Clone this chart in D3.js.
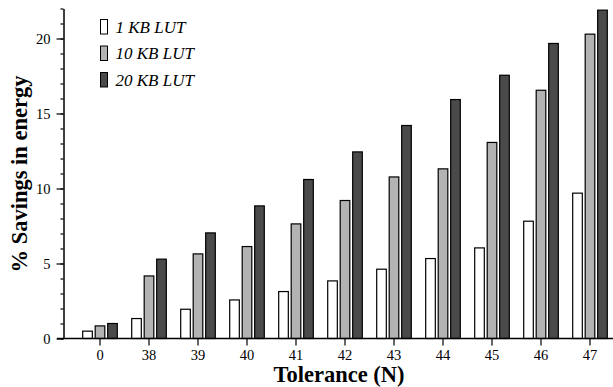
<!DOCTYPE html>
<html>
<head>
<meta charset="utf-8">
<script src="https://cdn.jsdelivr.net/npm/d3@7"></script>
<style>
  html, body { margin: 0; padding: 0; background: #fff; }
</style>
</head>
<body>
<div id="chart"></div>
<script>
const categories = ['0', '38', '39', '40', '41', '42', '43', '44', '45', '46', '47']
const seriesNames = ['1 KB LUT', '10 KB LUT', '20 KB LUT']
const lut1 = [0.49, 1.33, 1.95, 2.57, 3.13, 3.84, 4.62, 5.33, 6.04, 7.82, 9.69]
const lut10 = [0.84, 4.17, 5.64, 6.13, 7.64, 9.2, 10.77, 11.31, 13.07, 16.55, 20.29]
const lut20 = [1.0, 5.29, 7.04, 8.84, 10.6, 12.44, 14.2, 15.93, 17.55, 19.67, 21.89]
const majorTicks = [0, 5, 10, 15, 20]

const width = 613
const height = 387
const font = 'Liberation Serif'
const colors = { '1 KB LUT': '#ffffff', '10 KB LUT': '#b3b3b3', '20 KB LUT': '#4a4a4a' }

const rows = categories.map((c, i) => ({
  cat: c,
  values: [
    { key: seriesNames[0], value: lut1[i] },
    { key: seriesNames[1], value: lut10[i] },
    { key: seriesNames[2], value: lut20[i] },
  ],
}))

const svg = d3
  .select('#chart')
  .append('svg')
  .attr('width', width)
  .attr('height', height)
  .attr('font-family', font)

const axisX = 63.5
const x0 = d3.scaleBand().domain(categories).range([75.5, 614.5]).padding(0)
const x1 = d3
  .scaleBand()
  .domain(seriesNames)
  .range([x0.bandwidth() / 2 - 17.3, x0.bandwidth() / 2 + 17.3])
  .paddingInner(0.23)
const y = d3.scaleLinear().domain([0, 22]).range([338.5, 8.5])

// bars
const groups = svg
  .append('g')
  .selectAll('g')
  .data(rows)
  .join('g')
  .attr('transform', (d) => `translate(${x0(d.cat)},0)`)

groups
  .selectAll('rect')
  .data((d) => d.values)
  .join('rect')
  .attr('x', (d) => x1(d.key))
  .attr('y', (d) => y(d.value))
  .attr('width', x1.bandwidth())
  .attr('height', (d) => y(0) - y(d.value))
  .attr('fill', (d) => colors[d.key])
  .attr('stroke', '#000')
  .attr('stroke-width', 1.2)

// y axis: minor then major ticks
const yMinor = svg
  .append('g')
  .attr('transform', `translate(${axisX},0)`)
  .call(d3.axisLeft(y).tickValues(d3.range(0, 23)).tickSize(3).tickFormat(''))
yMinor.select('.domain').remove()

const yAxis = svg
  .append('g')
  .attr('transform', `translate(${axisX},0)`)
  .call(d3.axisLeft(y).tickValues(majorTicks).tickSize(7).tickSizeOuter(0).tickPadding(6))
yAxis.attr('font-family', font).attr('font-size', 14.5)
yAxis.selectAll('text').attr('fill', '#000')
svg.selectAll('.tick line').attr('stroke', '#000').attr('stroke-width', 1.2)
yAxis.select('.domain').attr('stroke', '#000').attr('stroke-width', 1.5)

// x axis
const xAxis = svg
  .append('g')
  .attr('transform', `translate(0,${y(0)})`)
  .call(d3.axisBottom(x0).tickSize(7).tickSizeOuter(0).tickPadding(4))
xAxis.attr('font-family', font).attr('font-size', 14.5)
xAxis.select('.domain').attr('d', `M57,0H613`).attr('stroke', '#000').attr('stroke-width', 1.5)
xAxis.selectAll('.tick line').attr('stroke', '#000').attr('stroke-width', 1.2)
xAxis.selectAll('text').attr('fill', '#000')

// axis titles
svg
  .append('text')
  .attr('x', 339)
  .attr('y', 382)
  .attr('text-anchor', 'middle')
  .attr('font-family', font)
  .attr('font-size', 22.5)
  .attr('font-weight', 'bold')
  .text('Tolerance (N)')

svg
  .append('text')
  .attr('transform', 'translate(27,174) rotate(-90)')
  .attr('text-anchor', 'middle')
  .attr('font-family', font)
  .attr('font-size', 22.5)
  .attr('font-weight', 'bold')
  .text('% Savings in energy')

// legend
const legend = svg
  .append('g')
  .selectAll('g')
  .data(seriesNames)
  .join('g')
  .attr('transform', (d, i) => `translate(100.5,${19.5 + i * 26.5})`)

legend
  .append('rect')
  .attr('width', 7)
  .attr('height', 14.5)
  .attr('fill', (d) => colors[d])
  .attr('stroke', '#000')
  .attr('stroke-width', 1)

legend
  .append('text')
  .attr('x', 15)
  .attr('y', 13)
  .attr('font-family', font)
  .attr('font-size', 17)
  .attr('font-style', 'italic')
  .text((d) => d)
</script>
</body>
</html>
